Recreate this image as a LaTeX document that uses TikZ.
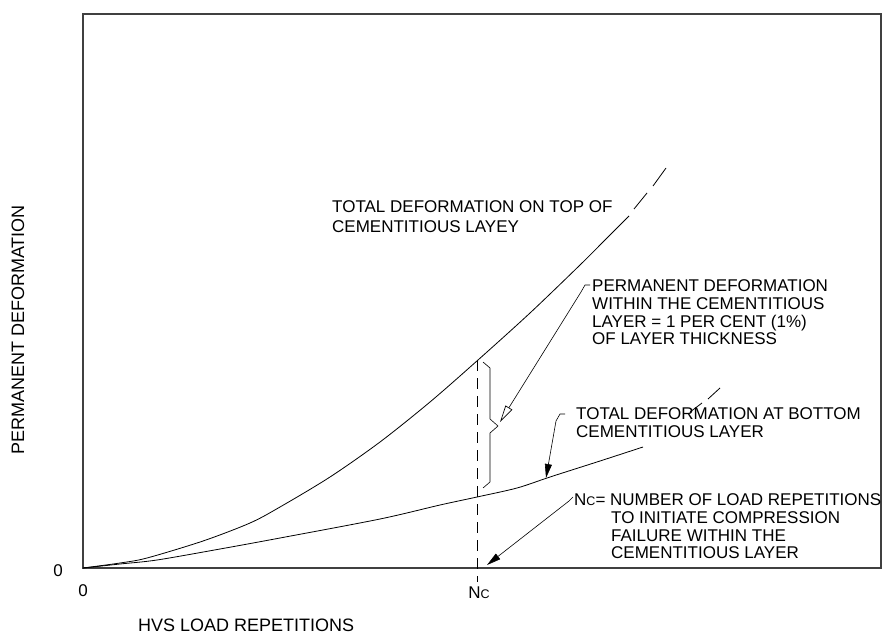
\documentclass[tikz,border=0pt]{standalone}
\usepackage{fontspec}
\setmainfont{Liberation Sans}
\usetikzlibrary{arrows.meta}
\newcommand{\smallC}{{\fontsize{12.5}{12.5}\selectfont C}}
\begin{document}
\begin{tikzpicture}[x=1pt,y=-1pt,
  frame/.style={draw=black!75,line width=1.3pt},
  curve/.style={line width=0.8pt},
  lbl/.style={font=\fontsize{17}{17.6}\selectfont,inner sep=0pt,align=left,anchor=north west},
  tick/.style={font=\fontsize{17}{17.6}\selectfont,inner sep=0pt,anchor=base},
  axlbl/.style={font=\fontsize{18}{18}\selectfont,inner sep=0pt},
  leader/.style={line width=0.6pt},
  ndash/.style={line width=0.8pt,dash pattern=on 11pt off 7pt},
  openhead/.style={-{Triangle[open,length=17pt,width=8pt,line width=0.7pt]}},
  fillhead/.style={-{Triangle[length=14pt,width=7pt]}}]
\useasboundingbox (0,0) rectangle (883,634);

% plot frame
\coordinate (O) at (83,568);
\draw[frame] (O) rectangle (881,14);

% deformation on top of the cementitious layer
\draw[curve] plot[smooth,tension=0.5] coordinates {(83,568) (120,563) (147,558) (203,541) (250,523) (280,507) (330,477) (380,442) (430,402) (478,360) (530,313) (580,265) (605,240) (629,216)};
\draw[curve] (634,209) -- (647,193) (653,186) -- (666,168);

% deformation at the bottom of the cementitious layer
\draw[curve] plot[smooth,tension=0.5] coordinates {(83,568) (120,564) (157,560) (220,549) (280,538) (380,519) (440,505) (477,497) (517,488) (550,477) (600,461) (643,447)};
\draw[curve] (690,412) -- (702,403) (708,399) -- (720,388);

% Nc marker
\coordinate (Ntop) at (477,360);
\coordinate (Nbot) at (477,582);
\draw[ndash] (Ntop) -- (Nbot);

% brace between the two curves
\draw[leader] (483,362) -- (490,368) -- (490,419) -- (498,426) -- (490,433) -- (490,482) -- (483,488);

% axis annotations
\node[tick] (y0) at (58,576) {0};
\node[tick] (x0) at (83,596) {0};
\node[tick] (xN) at (479,598) {N\smallC};
\node[axlbl,anchor=base west] (xl) at (138,631) {HVS LOAD REPETITIONS};
\node[axlbl,anchor=base,rotate=90] (yl) at (24,330) {PERMANENT DEFORMATION};

% curve labels
\node[lbl] (ltop) at (332,200.8) {TOTAL DEFORMATION ON TOP OF\\[2.4pt]CEMENTITIOUS LAYEY};
\node[lbl] (lperm) at (592,279.8) {PERMANENT DEFORMATION\\WITHIN THE CEMENTITIOUS\\LAYER = 1 PER CENT (1\%)\\OF LAYER THICKNESS};
\node[lbl] (lbot) at (576,407.8) {TOTAL DEFORMATION AT BOTTOM\\CEMENTITIOUS LAYER};
\node[lbl] (lnc) at (574,493.8) {N\smallC= NUMBER OF LOAD REPETITIONS\\\hspace*{37pt}TO INITIATE COMPRESSION\\\hspace*{37pt}FAILURE WITHIN THE\\\hspace*{37pt}CEMENTITIOUS LAYER};

% leaders
\coordinate (tperm) at (500,422);
\coordinate (tbot) at (546,478);
\coordinate (tnc) at (487,565);
\draw[leader,openhead] (590,285) -- (585,285) -- (581,292) -- (tperm);
\draw[leader,fillhead] (565,414) -- (560,414) -- (556,421) -- (tbot);
\draw[leader,fillhead] (573,497) -- (569,501) -- (tnc);
\end{tikzpicture}
\end{document}
